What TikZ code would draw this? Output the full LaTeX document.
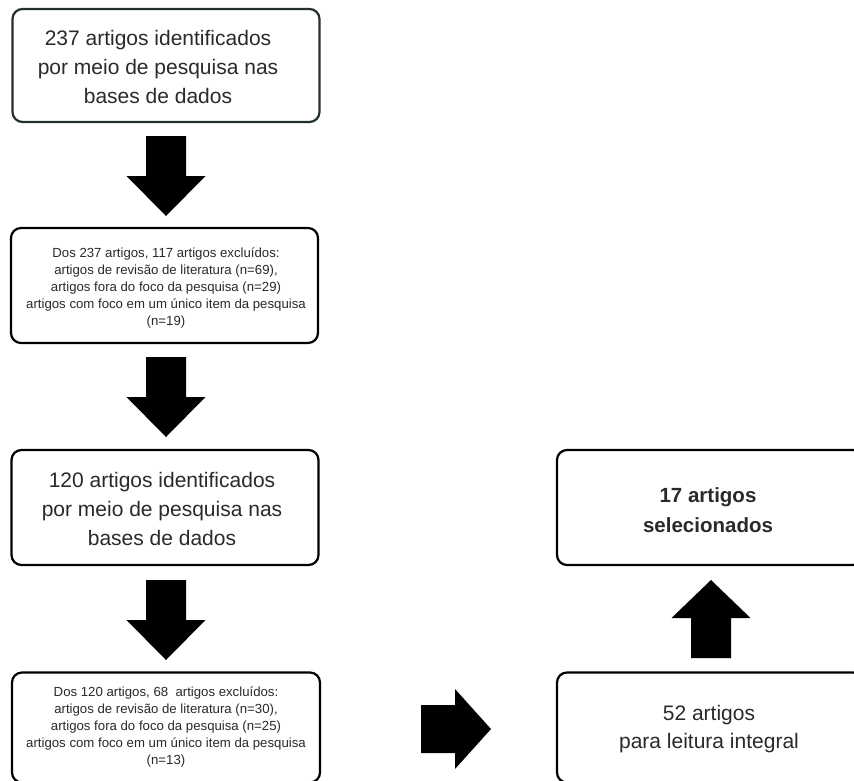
\documentclass[tikz,border=0pt]{standalone}
\usepackage{fontspec}
\setmainfont{Liberation Sans}
\definecolor{boxgreen}{HTML}{24302C}
\definecolor{txt}{HTML}{2A2A2A}
\begin{document}
\begin{tikzpicture}[x=1pt,y=-1pt,
  box/.style={draw=black,line width=2.2pt,rounded corners=10pt,fill=white,
    inner sep=0pt,minimum width=307pt,anchor=center},
  lbl/.style={align=center,text=txt,inner sep=0pt,anchor=center},
  bigtext/.style={font=\fontsize{21}{29}\selectfont},
  smalltext/.style={font=\fontsize{13.2}{17}\selectfont},
  rtext/.style={font=\fontsize{21}{28}\selectfont},
  btext/.style={font=\fontsize{20.5}{30}\selectfont\bfseries},
  blk/.style={fill=black,draw=none}]
\useasboundingbox (0,0) rectangle (854,780);
\clip (0,0) rectangle (854,780);
% boxes
\node[box,draw=boxgreen,minimum height=113pt] (b1) at (166,65.5) {};
\node[box,minimum height=115pt] (b2) at (164.5,285.5) {};
\node[box,minimum height=115pt] (b3) at (165,507.5) {};
\node[box,minimum height=110pt,minimum width=308pt] (b4) at (166,727.5) {};
\node[box,minimum height=115pt,minimum width=306pt] (b5) at (710,507.5) {};
\node[box,minimum height=110pt,minimum width=306pt] (b6) at (710,727.5) {};
% texts
\node[lbl,bigtext] (t1) at (158,66.5) {237 artigos identificados\\por meio de pesquisa nas\\bases de dados};
\node[lbl,smalltext] (t2) at (166,288) {Dos 237 artigos, 117 artigos excluídos:\\artigos de revisão de literatura (n=69),\\artigos fora do foco da pesquisa (n=29)\\artigos com foco em um único item da pesquisa\\(n=19)};
\node[lbl,bigtext] (t3) at (162,508.5) {120 artigos identificados\\por meio de pesquisa nas\\bases de dados};
\node[lbl,smalltext] (t4) at (166,727) {Dos 120 artigos, 68\ \ artigos excluídos:\\artigos de revisão de literatura (n=30),\\artigos fora do foco da pesquisa (n=25)\\artigos com foco em um único item da pesquisa\\(n=13)};
\node[lbl,btext] (t5) at (708,510) {17 artigos\\selecionados};
\node[lbl,rtext] (t6) at (709,729) {52 artigos\\para leitura integral};
% block arrows
\coordinate (a1) at (166,136);
\coordinate (a2) at (166,357);
\coordinate (a3) at (166,580);
\coordinate (a4) at (711,658);
\coordinate (a5) at (421,729);
\foreach \c in {a1,a2,a3}{
  \fill[blk] (\c) ++(-20,0) -- ++(40,0) -- ++(0,40) -- ++(19.5,0) -- ++(-39.5,40) -- ++(-39.5,-40) -- ++(19.5,0) -- cycle;
}
\fill[blk] (a4) ++(-20,0) -- ++(40,0) -- ++(0,-40) -- ++(19.5,0) -- ++(-39.5,-38) -- ++(-39.5,38) -- ++(19.5,0) -- cycle;
\fill[blk] (a5) ++(0,-24) -- ++(34,0) -- ++(0,-16) -- ++(36,40) -- ++(-36,40) -- ++(0,-16) -- ++(-34,0) -- cycle;
\end{tikzpicture}
\end{document}
